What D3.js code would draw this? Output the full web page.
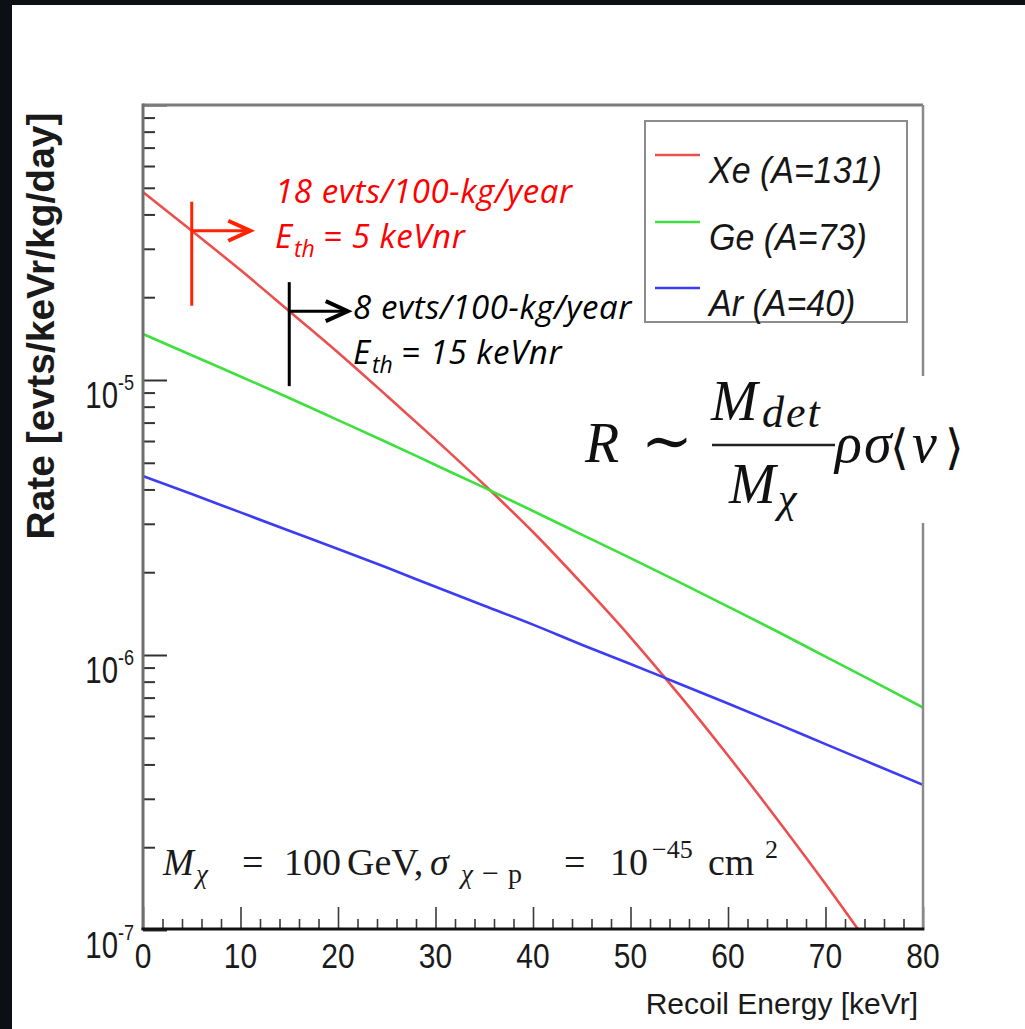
<!DOCTYPE html>
<html>
<head>
<meta charset="utf-8">
<script src="https://cdn.jsdelivr.net/npm/d3@7"></script>
<style>
  html, body { margin: 0; padding: 0; background: #0c0f13; }
  svg { display: block; }
</style>
</head>
<body>
<svg id="chart" width="1025" height="1029"></svg>
<script>
// ---- data -------------------------------------------------------------
// Recoil energies (keVr) at which the differential rates are tabulated
const energies = [0, 5, 10, 15, 20, 25, 30, 35, 40, 45, 50, 55, 60, 65, 70, 75, 80];
// Differential rate [evts/keVr/kg/day] for a 100 GeV WIMP, sigma = 1e-45 cm^2
const rateXe = [4.82e-5, 3.49e-5, 2.51e-5, 1.78e-5, 1.26e-5, 8.77e-6, 6.07e-6, 4.16e-6, 2.80e-6,
                1.82e-6, 1.16e-6, 7.16e-7, 4.31e-7, 2.54e-7, 1.47e-7, 8.3e-8, 4.6e-8];
const rateGe = [1.47e-5, 1.23e-5, 1.03e-5, 8.60e-6, 7.15e-6, 5.94e-6, 4.91e-6, 4.06e-6, 3.34e-6,
                2.74e-6, 2.25e-6, 1.84e-6, 1.50e-6, 1.22e-6, 9.87e-7, 7.99e-7, 6.44e-7];
const rateAr = [4.47e-6, 3.85e-6, 3.30e-6, 2.83e-6, 2.43e-6, 2.08e-6, 1.77e-6, 1.51e-6, 1.29e-6,
                1.09e-6, 9.28e-7, 7.86e-7, 6.66e-7, 5.63e-7, 4.74e-7, 4.00e-7, 3.37e-7];

const seriesNames  = ["Xe (A=131)", "Ge (A=73)", "Ar (A=40)"];
const seriesColors = ["#ec4f4f", "#3ee03e", "#3c3cf4"];
const seriesRates  = [rateXe, rateGe, rateAr];

// axis ticks
const xMajorTicks = [0, 10, 20, 30, 40, 50, 60, 70, 80];
const xTickLabels = ["0", "10", "20", "30", "40", "50", "60", "70", "80"];
const yDecades    = [1e-7, 1e-6, 1e-5, 1e-4];
const yLabelValues = [1e-7, 1e-6, 1e-5];
const yLabelExps   = ["-7", "-6", "-5"];

// thresholds quoted in the annotations (keVnr) and their integrated counts
const thresholds = [5, 15];
const thresholdCounts = ["18 evts/100-kg/year", "8 evts/100-kg/year"];
const thresholdTexts  = ["= 5 keVnr", "= 15 keVnr"];

// ---- layout -----------------------------------------------------------
const svg = d3.select("#chart");
const plot = { left: 143, right: 923, top: 105, bottom: 930 };

const x = d3.scaleLinear().domain([0, 80]).range([plot.left, plot.right]);
const y = d3.scaleLog().domain([1e-7, 1e-4]).range([plot.bottom, plot.top]);

// white canvas over the dark surround
svg.append("rect").attr("x", 12).attr("y", 5).attr("width", 1013).attr("height", 1024).attr("fill", "#ffffff");

const defs = svg.append("defs");
defs.append("clipPath").attr("id", "plotClip")
  .append("rect")
  .attr("x", plot.left).attr("y", plot.top)
  .attr("width", plot.right - plot.left).attr("height", plot.bottom - plot.top);

// ---- curves -----------------------------------------------------------
const line = d3.line()
  .x(d => x(d[0]))
  .y(d => y(d[1]))
  .curve(d3.curveMonotoneX);

const curves = svg.append("g").attr("clip-path", "url(#plotClip)");
seriesRates.forEach((rates, i) => {
  curves.append("path")
    .datum(energies.map((e, k) => [e, rates[k]]))
    .attr("d", line)
    .attr("fill", "none")
    .attr("stroke", seriesColors[i])
    .attr("stroke-width", 2.6);
});

// ---- axes -------------------------------------------------------------
const xAxis = svg.append("g").attr("transform", `translate(0,${plot.bottom})`)
  .call(d3.axisBottom(x).tickValues(xMajorTicks).tickSizeInner(-23).tickSizeOuter(0).tickFormat(""));
const xMinor = svg.append("g").attr("transform", `translate(0,${plot.bottom})`)
  .call(d3.axisBottom(x).tickValues(d3.range(0, 81, 2).filter(v => v % 10 !== 0))
        .tickSizeInner(-11).tickSizeOuter(0).tickFormat(""));

const yMinorVals = [];
[1e-7, 1e-6, 1e-5].forEach(dec => { for (let m = 2; m <= 9; m++) yMinorVals.push(m * dec); });
const yAxis = svg.append("g").attr("transform", `translate(${plot.left},0)`)
  .call(d3.axisLeft(y).tickValues(yDecades).tickSizeInner(-24).tickSizeOuter(0).tickFormat(""));
const yMinor = svg.append("g").attr("transform", `translate(${plot.left},0)`)
  .call(d3.axisLeft(y).tickValues(yMinorVals).tickSizeInner(-12).tickSizeOuter(0).tickFormat(""));

[xAxis, xMinor, yAxis, yMinor].forEach(g => g.select(".domain").remove());
[xAxis, xMinor].forEach(g => g.selectAll(".tick line").attr("stroke", "#3a3a3a").attr("stroke-width", 1.6));
[yAxis, yMinor].forEach(g => g.selectAll(".tick line").attr("stroke", "#333").attr("stroke-width", 2));

// frame
const frame = svg.append("g").attr("fill", "none");
frame.append("line").attr("x1", plot.left).attr("x2", plot.right).attr("y1", plot.top).attr("y2", plot.top)
  .attr("stroke", "#7c7c7c").attr("stroke-width", 3);
frame.append("line").attr("x1", plot.right).attr("x2", plot.right).attr("y1", plot.top).attr("y2", plot.bottom)
  .attr("stroke", "#8a8a8a").attr("stroke-width", 2.5);
frame.append("line").attr("x1", plot.left).attr("x2", plot.left).attr("y1", plot.top - 1.5).attr("y2", plot.bottom)
  .attr("stroke", "#6f6f6f").attr("stroke-width", 3);
frame.append("line").attr("x1", plot.left - 1.5).attr("x2", plot.right + 1.2).attr("y1", plot.bottom - 1).attr("y2", plot.bottom - 1)
  .attr("stroke", "#111").attr("stroke-width", 3);

// tick labels (Helvetica-like, slightly tall)
const sans = "'Liberation Sans', Arial, Helvetica, sans-serif";
function scaledText(g, str, px, py, sx, sy, size, anchor, opts = {}) {
  return g.append("text")
    .attr("transform", `translate(${px},${py}) scale(${sx},${sy})`)
    .attr("text-anchor", anchor)
    .attr("font-family", opts.family || sans)
    .attr("font-size", size)
    .attr("font-style", opts.style || "normal")
    .attr("font-weight", opts.weight || "normal")
    .attr("fill", opts.fill || "#1a1a1a")
    .text(str);
}

const labels = svg.append("g");
xMajorTicks.forEach((v, i) => scaledText(labels, xTickLabels[i], x(v), 968, 1, 1.15, 30, "middle"));
yLabelValues.forEach((v, i) => {
  scaledText(labels, "10", 118, y(v) + 28, 0.98, 1.25, 30, "end");
  scaledText(labels, yLabelExps[i], 118, y(v) + 10, 0.95, 1.2, 19, "start");
});

// axis titles
labels.append("text")
  .attr("x", 918).attr("y", 1014)
  .attr("text-anchor", "end")
  .attr("font-family", sans).attr("font-size", 30).attr("fill", "#1a1a1a")
  .text("Recoil Energy [keVr]");
labels.append("text")
  .attr("transform", "translate(54,326) rotate(-90)")
  .attr("text-anchor", "middle")
  .attr("font-family", sans).attr("font-size", 39).attr("font-weight", "bold").attr("fill", "#1a1a1a")
  .text("Rate [evts/keVr/kg/day]");

// ---- legend -----------------------------------------------------------
const legend = svg.append("g");
legend.append("rect").attr("x", 645).attr("y", 121).attr("width", 262).attr("height", 201)
  .attr("fill", "#ffffff").attr("stroke", "#8c8c8c").attr("stroke-width", 2);
const legendBase = [183, 250, 316];
seriesNames.forEach((name, i) => {
  legend.append("line").attr("x1", 655).attr("x2", 700)
    .attr("y1", legendBase[i] - 28).attr("y2", legendBase[i] - 28)
    .attr("stroke", seriesColors[i]).attr("stroke-width", 2.6);
  scaledText(legend, name, 709, legendBase[i], 1, 1.1, 34, "start", { style: "italic", fill: "#161616" });
});

// ---- threshold markers --------------------------------------------------
const xeAt = e => Math.exp(d3.scaleLinear().domain(energies).range(rateXe.map(Math.log))(e));
const markerColors = ["#ff2200", "#000000"];
const markerTextColors = ["#ff0000", "#000000"];
const markerText = [
  { x: 275, y1: 203, y2: 248, rest: 323 },
  { x: 353, y1: 319, y2: 364, rest: 401 }
];
const annot = "'Open Sans', 'DejaVu Sans', sans-serif";
thresholds.forEach((eth, i) => {
  const px = x(eth), py = y(xeAt(eth));
  const tip = x(eth + 6);
  const g = svg.append("g").attr("stroke", markerColors[i]).attr("fill", "none").attr("stroke-linecap", "butt");
  g.append("line").attr("x1", px).attr("x2", px).attr("y1", py - 29).attr("y2", py + 75).attr("stroke-width", 3);
  g.append("line").attr("x1", px).attr("x2", tip - 2).attr("y1", py).attr("y2", py).attr("stroke-width", 3);
  g.append("path").attr("d", `M${tip - 22},${py - 10} L${tip},${py} L${tip - 22},${py + 10}`)
    .attr("stroke-width", 4).attr("stroke-linejoin", "miter");

  const t = markerText[i];
  const tg = svg.append("g").attr("fill", markerTextColors[i]).attr("font-family", annot)
    .attr("font-style", "italic").attr("font-size", 33).attr("letter-spacing", 0.6);
  tg.append("text").attr("x", t.x).attr("y", t.y1).text(thresholdCounts[i]);
  tg.append("text").attr("x", t.x).attr("y", t.y2).text("E");
  tg.append("text").attr("x", t.x + 19).attr("y", t.y2 + 9).attr("font-size", 23).attr("letter-spacing", 0).text("th");
  tg.append("text").attr("x", t.rest).attr("y", t.y2).text(thresholdTexts[i]);
});

// ---- rate formula -------------------------------------------------------
const serif = "'Liberation Serif', 'Times New Roman', serif";
const symb = "'DejaVu Serif', serif";
const fg = svg.append("g").attr("font-family", serif).attr("fill", "#111");
fg.append("rect").attr("x", 572).attr("y", 376).attr("width", 418).attr("height", 147).attr("fill", "#ffffff");
function ftext(str, px, py, size, italic, family) {
  return fg.append("text").attr("x", px).attr("y", py).attr("font-size", size)
    .attr("font-style", italic ? "italic" : "normal")
    .attr("font-family", family || serif).text(str);
}
ftext("R", 585, 462, 56, true);
ftext("∼", 641, 462, 62, false, symb);
ftext("M", 711, 420, 56, true);
ftext("det", 762, 427, 44, true).attr("letter-spacing", 2);
fg.append("line").attr("x1", 712).attr("x2", 835).attr("y1", 445).attr("y2", 445).attr("stroke", "#222").attr("stroke-width", 2.5);
ftext("M", 729, 503, 56, true);
ftext("χ", 778, 512, 42, true);
ftext("ρ", 835, 462, 56, true);
ftext("σ", 864, 462, 56, true);
ftext("⟨", 890, 464, 48, false, symb);
ftext("v", 912, 462, 56, true);
ftext("⟩", 945, 464, 48, false, symb);

// ---- WIMP parameters ----------------------------------------------------
const pg = svg.append("g").attr("font-family", serif).attr("fill", "#1a1a1a");
function ptext(str, px, py, size, italic) {
  return pg.append("text").attr("x", px).attr("y", py).attr("font-size", size)
    .attr("font-style", italic ? "italic" : "normal").text(str);
}
ptext("M", 163, 875, 37, true);
ptext("χ", 196, 883, 27, true);
ptext("=", 242, 875, 38, false);
ptext("100", 284, 875, 38, false);
ptext("GeV,", 347, 875, 38, false);
ptext("σ", 430, 875, 38, true);
ptext("χ", 461, 883, 27, true);
ptext("−", 482, 883, 30, false);
ptext("p", 508, 883, 28, false);
ptext("=", 564, 875, 38, false);
ptext("10", 610, 875, 38, false);
ptext("−45", 652, 858, 26, false);
ptext("cm", 708, 875, 38, false);
ptext("2", 765, 858, 26, false);
</script>
</body>
</html>
